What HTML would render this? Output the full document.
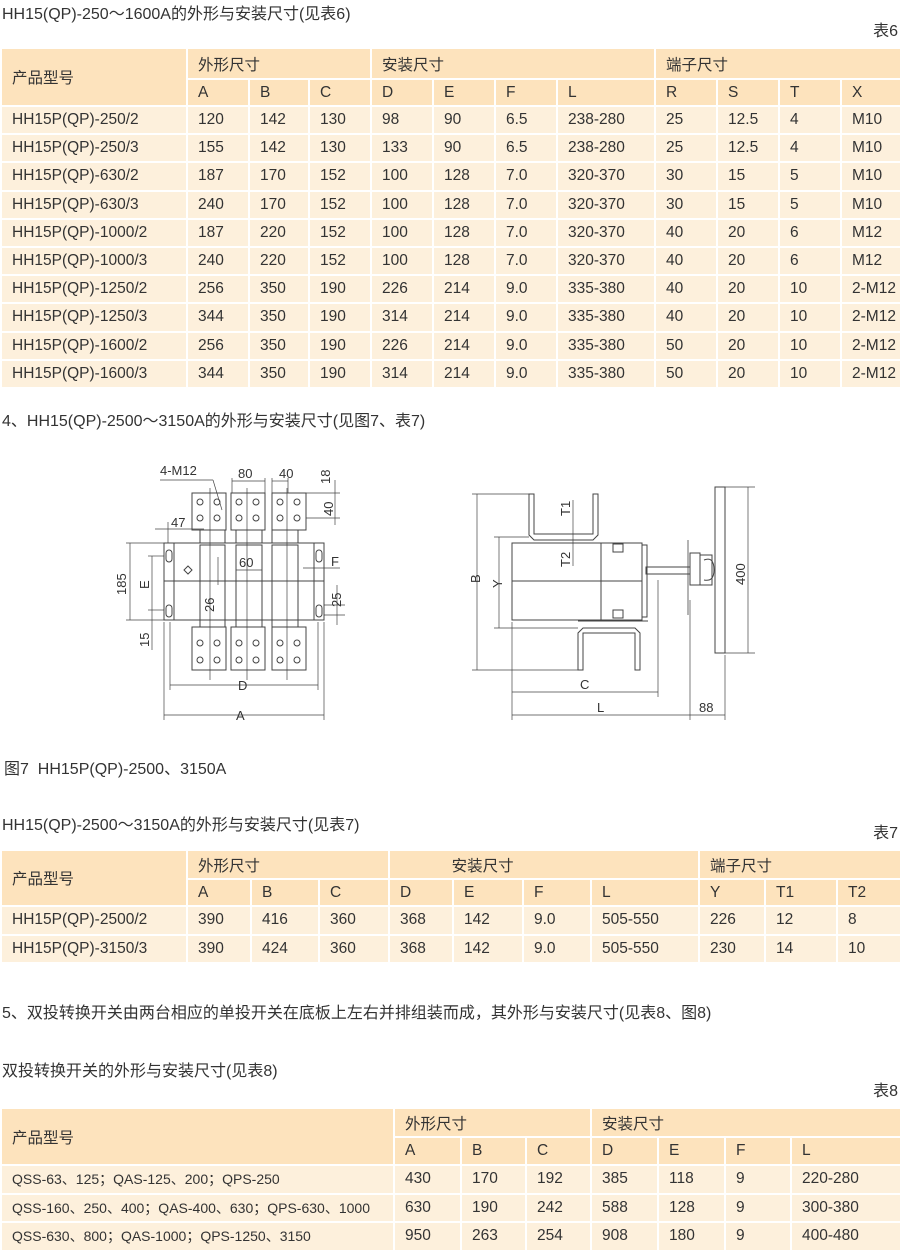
<!DOCTYPE html>
<html><head><meta charset="utf-8"><style>
*{margin:0;padding:0;box-sizing:border-box}
body{width:900px;height:1250px;background:#fff;position:relative;font-family:"Liberation Sans","Noto Sans CJK SC",sans-serif;color:#333;font-size:15.5px;overflow:hidden}
.t{position:absolute;white-space:nowrap;font-size:16px}
table{position:absolute;left:0;width:900px;border-collapse:collapse;table-layout:fixed}
td{border:2px solid #fff;padding:0 0 0 10px;font-size:15.5px;white-space:nowrap;overflow:hidden}
.h td{background:#fde3bd}
.d td{background:#fdf0dc}
td.s{font-size:14px;padding-left:10px}
</style></head><body>
<div class="t" style="left:2px;top:0px">HH15(QP)-250～1600A的外形与安装尺寸(见表6)</div>
<div class="t" style="right:2px;top:17px">表6</div>
<table style="top:47px">
<colgroup><col style="width:186px"><col style="width:62px"><col style="width:60px"><col style="width:62px"><col style="width:62px"><col style="width:62px"><col style="width:62px"><col style="width:98px"><col style="width:62px"><col style="width:62px"><col style="width:62px"><col style="width:60px"></colgroup>
<tr class="h" style="height:31px"><td rowspan="2">产品型号</td><td colspan="3">外形尺寸</td><td colspan="4">安装尺寸</td><td colspan="4">端子尺寸</td></tr>
<tr class="h" style="height:27px"><td>A</td><td>B</td><td>C</td><td>D</td><td>E</td><td>F</td><td>L</td><td>R</td><td>S</td><td>T</td><td>X</td></tr>
<tr class="d" style="height:28.2px"><td>HH15P(QP)-250/2</td><td>120</td><td>142</td><td>130</td><td>98</td><td>90</td><td>6.5</td><td>238-280</td><td>25</td><td>12.5</td><td>4</td><td>M10</td></tr>
<tr class="d" style="height:28.2px"><td>HH15P(QP)-250/3</td><td>155</td><td>142</td><td>130</td><td>133</td><td>90</td><td>6.5</td><td>238-280</td><td>25</td><td>12.5</td><td>4</td><td>M10</td></tr>
<tr class="d" style="height:28.2px"><td>HH15P(QP)-630/2</td><td>187</td><td>170</td><td>152</td><td>100</td><td>128</td><td>7.0</td><td>320-370</td><td>30</td><td>15</td><td>5</td><td>M10</td></tr>
<tr class="d" style="height:28.2px"><td>HH15P(QP)-630/3</td><td>240</td><td>170</td><td>152</td><td>100</td><td>128</td><td>7.0</td><td>320-370</td><td>30</td><td>15</td><td>5</td><td>M10</td></tr>
<tr class="d" style="height:28.2px"><td>HH15P(QP)-1000/2</td><td>187</td><td>220</td><td>152</td><td>100</td><td>128</td><td>7.0</td><td>320-370</td><td>40</td><td>20</td><td>6</td><td>M12</td></tr>
<tr class="d" style="height:28.2px"><td>HH15P(QP)-1000/3</td><td>240</td><td>220</td><td>152</td><td>100</td><td>128</td><td>7.0</td><td>320-370</td><td>40</td><td>20</td><td>6</td><td>M12</td></tr>
<tr class="d" style="height:28.2px"><td>HH15P(QP)-1250/2</td><td>256</td><td>350</td><td>190</td><td>226</td><td>214</td><td>9.0</td><td>335-380</td><td>40</td><td>20</td><td>10</td><td>2-M12</td></tr>
<tr class="d" style="height:28.2px"><td>HH15P(QP)-1250/3</td><td>344</td><td>350</td><td>190</td><td>314</td><td>214</td><td>9.0</td><td>335-380</td><td>40</td><td>20</td><td>10</td><td>2-M12</td></tr>
<tr class="d" style="height:28.2px"><td>HH15P(QP)-1600/2</td><td>256</td><td>350</td><td>190</td><td>226</td><td>214</td><td>9.0</td><td>335-380</td><td>50</td><td>20</td><td>10</td><td>2-M12</td></tr>
<tr class="d" style="height:28.2px"><td>HH15P(QP)-1600/3</td><td>344</td><td>350</td><td>190</td><td>314</td><td>214</td><td>9.0</td><td>335-380</td><td>50</td><td>20</td><td>10</td><td>2-M12</td></tr>
</table>
<div class="t" style="left:2px;top:407px">4、HH15(QP)-2500～3150A的外形与安装尺寸(见图7、表7)</div>

<svg style="position:absolute;left:0;top:440px" width="900" height="310" viewBox="0 440 900 310" fill="none" stroke="#444" stroke-width="1" font-family="Liberation Sans" font-size="13">
<rect x="164" y="543" width="160" height="77"/>
<line x1="174" y1="543" x2="174" y2="620"/><line x1="314" y1="543" x2="314" y2="620"/>
<line x1="164" y1="581" x2="324" y2="581"/>
<rect x="192" y="493" width="34" height="37"/><rect x="231" y="493" width="34" height="37"/><rect x="272" y="493" width="34" height="37"/>
<rect x="200" y="530" width="25" height="13"/><rect x="236" y="530" width="26" height="13"/><rect x="272" y="530" width="26" height="13"/>
<rect x="200" y="545" width="25" height="82"/><rect x="236" y="545" width="26" height="82"/><rect x="272" y="545" width="26" height="82"/>
<rect x="192" y="627" width="34" height="43"/><rect x="231" y="627" width="34" height="43"/><rect x="272" y="627" width="34" height="43"/>
<g fill="#fff">
<circle cx="200" cy="502" r="3"/><circle cx="217" cy="502" r="3"/><circle cx="200" cy="518" r="3"/><circle cx="217" cy="518" r="3"/>
<circle cx="239" cy="502" r="3"/><circle cx="256" cy="502" r="3"/><circle cx="239" cy="518" r="3"/><circle cx="256" cy="518" r="3"/>
<circle cx="280" cy="502" r="3"/><circle cx="297" cy="502" r="3"/><circle cx="280" cy="518" r="3"/><circle cx="297" cy="518" r="3"/>
<circle cx="200" cy="643" r="3"/><circle cx="217" cy="643" r="3"/><circle cx="200" cy="660" r="3"/><circle cx="217" cy="660" r="3"/>
<circle cx="239" cy="643" r="3"/><circle cx="256" cy="643" r="3"/><circle cx="239" cy="660" r="3"/><circle cx="256" cy="660" r="3"/>
<circle cx="280" cy="643" r="3"/><circle cx="297" cy="643" r="3"/><circle cx="280" cy="660" r="3"/><circle cx="297" cy="660" r="3"/>
<rect x="166" y="550" width="6" height="12" rx="3"/><rect x="166" y="605" width="6" height="12" rx="3"/>
<rect x="316" y="550" width="6" height="12" rx="3"/><rect x="316" y="605" width="6" height="12" rx="3"/>
</g>
<path d="M188 566 l4 4 -4 4 -4 -4z"/>
<g stroke-width="0.7">
<line x1="164" y1="622" x2="164" y2="720"/><line x1="324" y1="622" x2="324" y2="720"/>
<line x1="170" y1="622" x2="170" y2="690"/><line x1="318" y1="622" x2="318" y2="690"/>
<line x1="164" y1="715" x2="324" y2="715"/><line x1="170" y1="685" x2="318" y2="685"/>
<line x1="126" y1="543" x2="164" y2="543"/><line x1="126" y1="620" x2="164" y2="620"/>
<line x1="130" y1="543" x2="130" y2="620"/>
<line x1="148" y1="556" x2="164" y2="556"/><line x1="148" y1="610" x2="164" y2="610"/>
<line x1="152" y1="556" x2="152" y2="650"/>
<line x1="232" y1="481" x2="265" y2="481"/><line x1="272" y1="481" x2="288" y2="481"/>
<line x1="232" y1="478" x2="232" y2="493"/><line x1="265" y1="478" x2="265" y2="493"/><line x1="272" y1="478" x2="272" y2="493"/><line x1="288" y1="478" x2="288" y2="493"/>
<line x1="306" y1="493" x2="340" y2="493"/><line x1="306" y1="518" x2="340" y2="518"/><line x1="335" y1="480" x2="335" y2="525"/>
<line x1="155" y1="529" x2="204" y2="529"/><line x1="168" y1="522" x2="168" y2="543"/>
<line x1="236" y1="570" x2="262" y2="570"/><line x1="218" y1="557" x2="218" y2="585"/>
<line x1="303" y1="568" x2="340" y2="568"/><line x1="337" y1="585" x2="337" y2="625"/><line x1="324" y1="605" x2="345" y2="605"/><line x1="324" y1="615" x2="345" y2="615"/>
<line x1="160" y1="480" x2="213" y2="480"/><line x1="213" y1="480" x2="222" y2="510"/>
<line x1="210" y1="488" x2="210" y2="680"/><line x1="247" y1="488" x2="247" y2="680"/><line x1="287" y1="488" x2="287" y2="680"/>
</g>
<g fill="#333" stroke="none">
<text x="160" y="475">4-M12</text><text x="238" y="478">80</text><text x="279" y="478">40</text>
<text x="171" y="527">47</text><text x="239" y="567">60</text><text x="331" y="566">F</text>
<text x="236" y="720">A</text><text x="238" y="690">D</text>
<text transform="translate(330,484) rotate(-90)">18</text><text transform="translate(333,516) rotate(-90)">40</text>
<text transform="translate(126,595) rotate(-90)">185</text><text transform="translate(149,589) rotate(-90)">E</text>
<text transform="translate(149,647) rotate(-90)">15</text><text transform="translate(214,612) rotate(-90)">26</text>
<text transform="translate(341,607) rotate(-90)">25</text>
</g>
<rect x="512" y="543" width="130" height="77"/><line x1="601" y1="543" x2="601" y2="620"/><line x1="512" y1="581" x2="642" y2="581"/>
<rect x="642" y="545" width="5" height="72"/>
<rect x="613" y="544" width="10" height="8"/><rect x="613" y="610" width="10" height="8"/>
<path d="M529 494 v41 l5 5 h59 l5 -5 v-41 h-5 v40 h-59 v-40 z"/>
<path d="M526 543 h72"/>
<path d="M578 670 v-37 l5 -5 h52 l5 5 v37 h-5 v-37 h-52 v37z"/>
<path d="M578 621 h70"/>
<rect x="646" y="567" width="44" height="7"/>
<rect x="690" y="553" width="10" height="32"/><rect x="715" y="487" width="10" height="166"/>
<path d="M700 555 h12 v30 h-12 M704 560 q10 -4 10 10 q0 12 -10 10"/>
<line x1="688" y1="540" x2="688" y2="615" stroke-width="0.8"/>
<g stroke-width="0.7">
<line x1="472" y1="494" x2="529" y2="494"/><line x1="472" y1="670" x2="578" y2="670"/><line x1="477" y1="494" x2="477" y2="670"/>
<line x1="494" y1="537" x2="529" y2="537"/><line x1="494" y1="628" x2="578" y2="628"/><line x1="499" y1="537" x2="499" y2="628"/>
<line x1="573" y1="500" x2="573" y2="566"/>
<line x1="512" y1="622" x2="512" y2="720"/><line x1="658" y1="580" x2="658" y2="697"/><line x1="690" y1="600" x2="690" y2="720"/><line x1="725" y1="655" x2="725" y2="720"/>
<line x1="512" y1="692" x2="658" y2="692"/><line x1="512" y1="715" x2="690" y2="715"/><line x1="690" y1="715" x2="725" y2="715"/>
<line x1="725" y1="487" x2="755" y2="487"/><line x1="725" y1="653" x2="755" y2="653"/><line x1="748" y1="487" x2="748" y2="653"/>
</g>
<g fill="#333" stroke="none">
<text transform="translate(480,583) rotate(-90)">B</text><text transform="translate(502,588) rotate(-90)">Y</text>
<text transform="translate(570,516) rotate(-90)">T1</text><text transform="translate(570,567) rotate(-90)">T2</text>
<text transform="translate(745,585) rotate(-90)">400</text>
<text x="580" y="689">C</text><text x="597" y="712">L</text><text x="699" y="712">88</text>
</g>
</svg>
<div class="t" style="left:4px;top:755px">图7&nbsp; HH15P(QP)-2500、3150A</div>

<div class="t" style="left:2px;top:811px">HH15(QP)-2500～3150A的外形与安装尺寸(见表7)</div>
<div class="t" style="right:2px;top:819px">表7</div>
<table style="top:849px">
<colgroup><col style="width:186px"><col style="width:64px"><col style="width:68px"><col style="width:70px"><col style="width:64px"><col style="width:70px"><col style="width:68px"><col style="width:108px"><col style="width:66px"><col style="width:72px"><col style="width:64px"></colgroup>
<tr class="h" style="height:29px"><td rowspan="2">产品型号</td><td colspan="3">外形尺寸</td><td colspan="4">&nbsp;&nbsp;&nbsp;&nbsp;&nbsp;&nbsp;&nbsp;&nbsp;&nbsp;&nbsp;&nbsp;&nbsp;安装尺寸</td><td colspan="3">端子尺寸</td></tr>
<tr class="h" style="height:27px"><td>A</td><td>B</td><td>C</td><td>D</td><td>E</td><td>F</td><td>L</td><td>Y</td><td>T1</td><td>T2</td></tr>
<tr class="d" style="height:28.5px"><td>HH15P(QP)-2500/2</td><td>390</td><td>416</td><td>360</td><td>368</td><td>142</td><td>9.0</td><td>505-550</td><td>226</td><td>12</td><td>8</td></tr>
<tr class="d" style="height:28.5px"><td>HH15P(QP)-3150/3</td><td>390</td><td>424</td><td>360</td><td>368</td><td>142</td><td>9.0</td><td>505-550</td><td>230</td><td>14</td><td>10</td></tr>
</table>
<div class="t" style="left:2px;top:999px">5、双投转换开关由两台相应的单投开关在底板上左右并排组装而成，其外形与安装尺寸(见表8、图8)</div>
<div class="t" style="left:2px;top:1057px">双投转换开关的外形与安装尺寸(见表8)</div>
<div class="t" style="right:2px;top:1077px">表8</div>
<table style="top:1107px">
<colgroup><col style="width:393px"><col style="width:67px"><col style="width:65px"><col style="width:65px"><col style="width:67px"><col style="width:67px"><col style="width:66px"><col style="width:110px"></colgroup>
<tr class="h" style="height:29px"><td rowspan="2">产品型号</td><td colspan="3">外形尺寸</td><td colspan="4">安装尺寸</td></tr>
<tr class="h" style="height:28px"><td>A</td><td>B</td><td>C</td><td>D</td><td>E</td><td>F</td><td>L</td></tr>
<tr class="d" style="height:28.5px"><td class="s">QSS-63、125；QAS-125、200；QPS-250</td><td>430</td><td>170</td><td>192</td><td>385</td><td>118</td><td>9</td><td>220-280</td></tr>
<tr class="d" style="height:28.5px"><td class="s">QSS-160、250、400；QAS-400、630；QPS-630、1000</td><td>630</td><td>190</td><td>242</td><td>588</td><td>128</td><td>9</td><td>300-380</td></tr>
<tr class="d" style="height:28.5px"><td class="s">QSS-630、800；QAS-1000；QPS-1250、3150</td><td>950</td><td>263</td><td>254</td><td>908</td><td>180</td><td>9</td><td>400-480</td></tr>
</table>
</body></html>
